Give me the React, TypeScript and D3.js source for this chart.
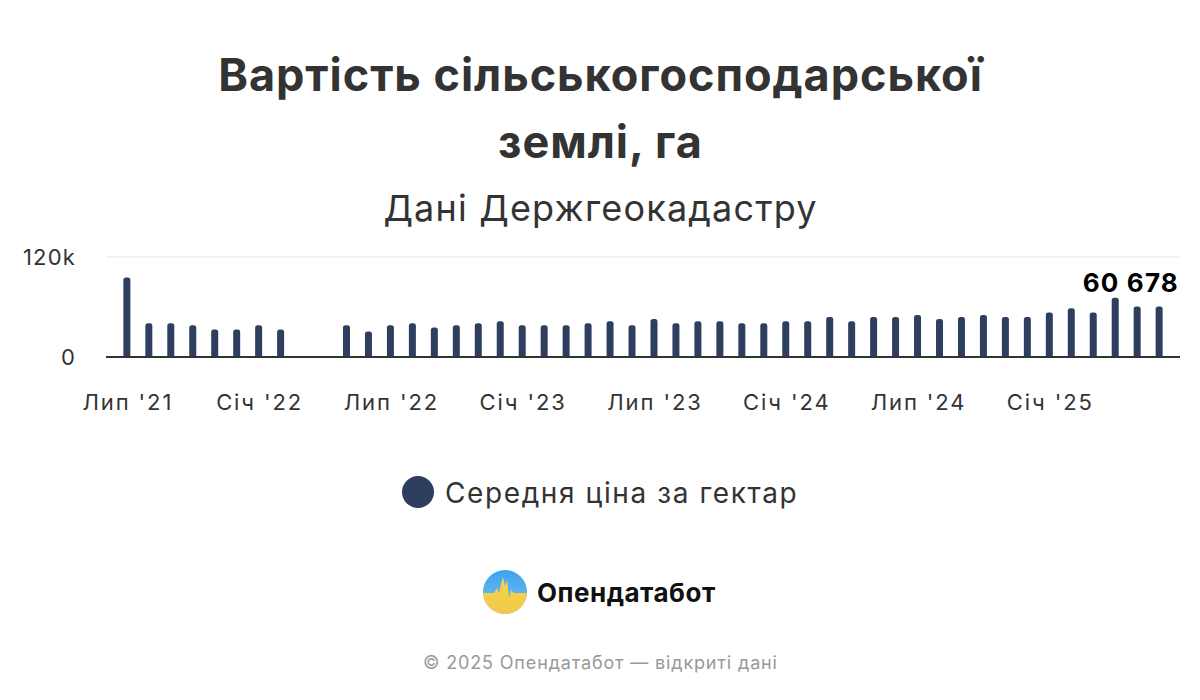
import React from "react";
import * as d3 from "d3";

const W = 1200, H = 700;
const PLOT = { left: 106, right: 1180, top: 257, bottom: 357 };
const FONT = "Inter, 'Noto Sans', 'Liberation Sans', sans-serif";
const BAR = "#2E3E5E";

const months = [
  "2021-07", "2021-08", "2021-09", "2021-10", "2021-11", "2021-12",
  "2022-01", "2022-02", "2022-03", "2022-04", "2022-05", "2022-06",
  "2022-07", "2022-08", "2022-09", "2022-10", "2022-11", "2022-12",
  "2023-01", "2023-02", "2023-03", "2023-04", "2023-05", "2023-06",
  "2023-07", "2023-08", "2023-09", "2023-10", "2023-11", "2023-12",
  "2024-01", "2024-02", "2024-03", "2024-04", "2024-05", "2024-06",
  "2024-07", "2024-08", "2024-09", "2024-10", "2024-11", "2024-12",
  "2025-01", "2025-02", "2025-03", "2025-04", "2025-05", "2025-06",
];

// середня ціна за гектар, грн (березень–квітень 2022 — немає даних)
const prices: (number | null)[] = [
  95500, 40500, 40500, 38000, 33000, 33000,
  38000, 33000, null, null, 38000, 30500,
  38000, 40500, 35500, 38000, 40500, 43000,
  38000, 38000, 38000, 40500, 43000, 38000,
  45500, 40500, 43000, 43000, 40500, 40500,
  43000, 43000, 48000, 43000, 48000, 48000,
  50500, 45500, 48000, 50500, 48000, 48000,
  53500, 58500, 53500, 71000, 60600, 60678,
];

const tickMonths = ["2021-07", "2022-01", "2022-07", "2023-01", "2023-07", "2024-01", "2024-07", "2025-01"];
const tickLabels = ["Лип '21", "Січ '22", "Лип '22", "Січ '23", "Лип '23", "Січ '24", "Лип '24", "Січ '25"];

const yTicks = [0, 120000];
const yTickLabels = ["0", "120k"];

const titleLines = ["Вартість сільськогосподарської", "землі, га"];
const subtitle = "Дані Держгеокадастру";
const seriesName = "Середня ціна за гектар";

function roundTopBar(x: number, y: number, w: number, h: number, r: number) {
  const rr = Math.min(r, h / 2, w / 2);
  return `M${x},${y + h} V${y + rr} Q${x},${y} ${x + rr},${y} H${x + w - rr} Q${x + w},${y} ${x + w},${y + rr} V${y + h} Z`;
}

export default function App() {
  const x = d3.scalePoint<string>().domain(months).range([PLOT.left, PLOT.right]).padding(0.95);
  const y = d3.scaleLinear([0, 120000], [PLOT.bottom, PLOT.top]);
  const bw = 7;

  const lastIdx = prices.length - 1;
  const lastVal = prices[lastIdx] as number;
  const lastLabel = d3.format(",")(lastVal).replace(/,/g, " ");

  return (
    <div style={{ position: "absolute", left: 0, top: 0 }}>
      <svg width={W} height={H} style={{ display: "block", background: "#fff" }}>
        <defs>
          <linearGradient id="sky" x1="0" y1="0" x2="0" y2="1">
            <stop offset="0" stopColor="#3BA3F0" />
            <stop offset="1" stopColor="#7CC2F2" />
          </linearGradient>
          <linearGradient id="wheat" x1="0" y1="0" x2="0" y2="1">
            <stop offset="0" stopColor="#F7D54A" />
            <stop offset="1" stopColor="#F2C84B" />
          </linearGradient>
          <clipPath id="logoClip">
            <circle cx={505} cy={592} r={22} />
          </clipPath>
        </defs>

        {/* Title */}
        {titleLines.map((t, i) => (
          <text key={t} x={W / 2 + 0.5} y={91 + i * 67} textAnchor="middle" fontFamily={FONT}
            fontSize={45} fontWeight={700} letterSpacing={0.95} fill="#333333">{t}</text>
        ))}
        <text x={W / 2 + 0.6} y={221} textAnchor="middle" fontFamily={FONT} fontSize={36}
          letterSpacing={1.2} fill="#333333">
          {subtitle}
        </text>

        {/* Grid */}
        <line x1={PLOT.left} x2={PLOT.right} y1={y(120000)} y2={y(120000)} stroke="#E6E6E6" strokeWidth={1} />

        {/* Y labels */}
        {yTicks.map((t, i) => (
          <text key={t} x={76} y={y(t) + 8} textAnchor="end" fontFamily={FONT} fontSize={22}
            letterSpacing={1.2} fill="#333333">
            {yTickLabels[i]}
          </text>
        ))}

        {/* Bars */}
        {months.map((m, i) => {
          const v = prices[i];
          if (v == null) return null;
          const cx = x(m)!;
          return (
            <path key={m} d={roundTopBar(cx - bw / 2, y(v), bw, y(0) - y(v), 2.5)} fill={BAR} />
          );
        })}

        {/* X axis */}
        <line x1={PLOT.left} x2={PLOT.right} y1={y(0)} y2={y(0)} stroke="#333333" strokeWidth={2} />
        {tickMonths.map((m, i) => (
          <text key={m} x={x(m)! + 1} y={410} textAnchor="middle" fontFamily={FONT} fontSize={22}
            letterSpacing={1.9} fill="#333333">
            {tickLabels[i]}
          </text>
        ))}

        {/* Last value label */}
        <text x={PLOT.right - 1} y={292} textAnchor="end" fontFamily={FONT} fontSize={26}
          fontWeight={700} letterSpacing={1.2} fill="#000000">{lastLabel}</text>

        {/* Legend */}
        <circle cx={418} cy={492} r={16} fill={BAR} />
        <text x={445} y={503} fontFamily={FONT} fontSize={28} letterSpacing={1.6} fill="#333333">{seriesName}</text>

        {/* Logo */}
        <g clipPath="url(#logoClip)">
          <rect x={483} y={570} width={44} height={44} fill="url(#sky)" />
          <path d="M483,593 L494,593 L497,588 L499,593 L501,584 L503,577 L505,586 L507,580 L509,598 L511,590 L514,593 L527,593 L527,614 L483,614 Z"
            fill="url(#wheat)" />
        </g>
        <text x={537} y={602} fontFamily={FONT} fontSize={26} fontWeight={700} letterSpacing={0.5}
          fill="#111111">Опендатабот</text>

        {/* Footer */}
        <text x={W / 2 + 0.4} y={669} textAnchor="middle" fontFamily={FONT} fontSize={18}
          letterSpacing={0.85} fill="#999999">
          © 2025 Опендатабот — відкриті дані
        </text>
      </svg>
    </div>
  );
}
